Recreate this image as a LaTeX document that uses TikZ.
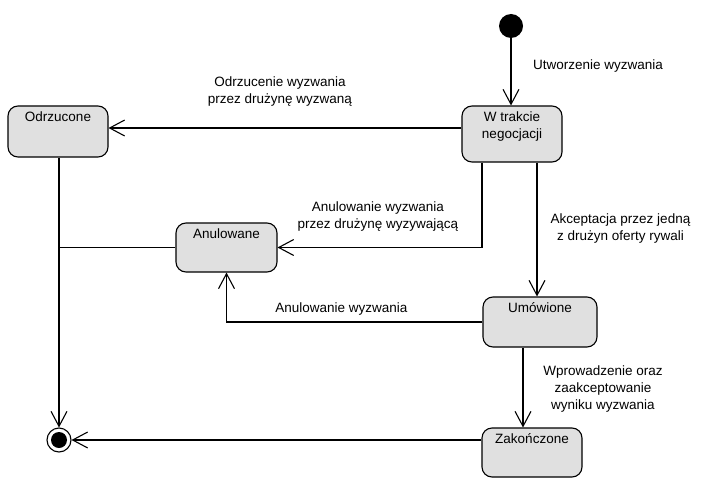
\documentclass[tikz,border=0pt]{standalone}
\usepackage{fontspec}
\setmainfont{Liberation Sans}
\usetikzlibrary{arrows.meta}
\definecolor{statefill}{RGB}{224,224,224}
\tikzset{
  state/.style={rectangle, rounded corners=10pt, draw=black, fill=statefill,
                line width=1.1pt, inner sep=0pt},
  stxt/.style={anchor=north, inner sep=3.5pt, text height=12pt, align=center},
  stxttwo/.style={anchor=north, inner sep=6pt, align=center},
  initst/.style={circle, fill=black, minimum size=24pt, inner sep=0pt},
  finalst/.style={circle, draw=black, fill=white, line width=1.1pt,
                  minimum size=24pt, inner sep=0pt,
                  path picture={\fill[black] (path picture bounding box.center) circle (8pt);}},
  lbl/.style={align=center, inner sep=0pt},
  ln/.style={line width=1.1pt},
  ar/.style={ln, -{Straight Barb[length=15pt, width=16pt, line width=1.1pt]}},
}

\begin{document}
\begin{tikzpicture}[x=1pt, y=-1pt, font=\fontsize{13.5}{17}\selectfont]
  \useasboundingbox (0,0) rectangle (706,500);
  % states
  \node[initst] (init) at (511,26) {};
  \node[state, minimum width=100pt, minimum height=56pt,
        label={[stxttwo]north:W trakcie\\negocjacji}] (negoc) at (512,134) {};
  \node[state, minimum width=100pt, minimum height=51pt,
        label={[stxt]north:Odrzucone}] (odrz) at (58,131.5) {};
  \node[state, minimum width=101pt, minimum height=49pt,
        label={[stxt]north:Anulowane}] (anul) at (226.5,247.5) {};
  \node[state, minimum width=114pt, minimum height=50pt,
        label={[stxt]north:Umówione}] (umow) at (540,322) {};
  \node[state, minimum width=100pt, minimum height=49pt,
        label={[stxt]north:Zakończone}] (zakon) at (532,452.5) {};
  \node[finalst] (final) at (59,440) {};
  % transitions
  \draw[ar] (init) -- (init |- negoc.north);
  \draw[ar] ([yshift=6pt]negoc.west) -- ([yshift=6pt]negoc.west -| odrz.east);
  \draw[ar] (odrz.south -| final) -- (final);
  \draw[ln] (anul.west) -- (anul.west -| final);
  \draw[ar] ([xshift=-30pt]negoc.south) |- (anul.east);
  \draw[ar] ([xshift=25pt]negoc.south) -- ([xshift=25pt]negoc.south |- umow.north);
  \draw[ar] (umow.west) -| (anul.south);
  \draw[ar] ([xshift=-17pt]umow.south) -- ([xshift=-17pt]umow.south |- zakon.north);
  \draw[ar] (zakon.west |- final) -- (final);
  % labels
  \node[lbl, anchor=west] (lutw) at (533,66) {Utworzenie wyzwania};
  \node[lbl] (lodrz) at (280,92) {Odrzucenie wyzwania\\przez drużynę wyzwaną};
  \node[lbl] (lanul) at (378,217) {Anulowanie wyzwania\\przez drużynę wyzywającą};
  \node[lbl] (lakc) at (620.5,228.5) {Akceptacja przez jedną\\z drużyn oferty rywali};
  \node[lbl] (lanul2) at (341.5,309) {Anulowanie wyzwania};
  \node[lbl] (lwpr) at (603,389) {Wprowadzenie oraz\\zaakceptowanie\\wyniku wyzwania};
\end{tikzpicture}
\end{document}
